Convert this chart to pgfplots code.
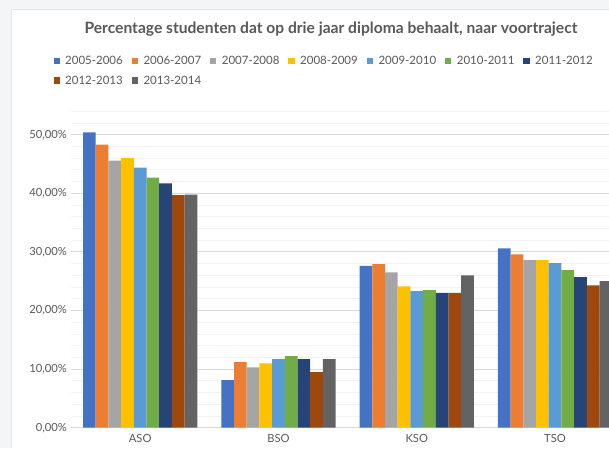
\documentclass[border=0pt]{standalone}
\usepackage{pgfplots}
\pgfplotsset{compat=1.18}
\usepackage{fontspec}
\setmainfont{Lato}
\definecolor{c1}{HTML}{4472C4}
\definecolor{c2}{HTML}{ED7D31}
\definecolor{c3}{HTML}{A5A5A5}
\definecolor{c4}{HTML}{FFC000}
\definecolor{c5}{HTML}{5B9BD5}
\definecolor{c6}{HTML}{70AD47}
\definecolor{c7}{HTML}{264478}
\definecolor{c8}{HTML}{9E480E}
\definecolor{c9}{HTML}{636363}
\definecolor{txt}{HTML}{595959}
\definecolor{bg}{HTML}{F3F5F6}
\definecolor{edge}{HTML}{E3E6E8}
\definecolor{majgrid}{HTML}{D9D9D9}
\definecolor{mingrid}{HTML}{F2F2F2}
\begin{document}
\begin{tikzpicture}[x=1pt,y=1pt]
\useasboundingbox (0,0) rectangle (609,448);
\fill[bg] (0,0) rectangle (609,448);
\fill[white] (11,0) rectangle (609,439);
\draw[edge,line width=0.8pt] (11,0) -- (11,439) -- (609,439);
\node[font=\bfseries\fontsize{15.6}{18}\selectfont, text=txt, anchor=base] at (331,414) {Percentage studenten dat op drie jaar diploma behaalt, naar voortraject};
\begin{axis}[
  at={(71pt,20.3pt)}, anchor=south west,
  scale only axis, width=553.2pt, height=316.4pt,
  xmin=-0.5, xmax=3.5, ymin=0, ymax=54,
  ybar=0pt, bar width=12.7pt,
  xtick={0,1,2,3}, xticklabels={ASO,BSO,KSO,TSO},
  ytick={0,10,20,30,40,50},
  yticklabels={{0,00\%},{10,00\%},{20,00\%},{30,00\%},{40,00\%},{50,00\%}},
  minor ytick={2,4,6,8,12,14,16,18,22,24,26,28,32,34,36,38,42,44,46,48,52,54},
  ymajorgrids, yminorgrids,
  major grid style={majgrid,line width=1pt},
  minor grid style={mingrid,line width=0.9pt},
  axis line style={draw=none},
  major tick length=0pt, minor tick length=0pt,
  tick label style={font=\fontsize{11.2}{13}\selectfont, text=txt},
  xticklabel style={anchor=north, inner sep=0pt, yshift=-6pt},
  yticklabel style={anchor=east, inner sep=0pt, xshift=-4pt},
  clip=false,
  legend columns=7,
  legend image code/.code={\fill[#1,draw=none] (0pt,1pt) rectangle (6.2pt,7.3pt);},
  legend style={at={(0,1)}, anchor=north west, xshift=-17.7pt, yshift=55.1pt,
    draw=none, fill=none, inner sep=0pt,
    font=\fontsize{11.5}{13}\selectfont, text=txt,
    nodes={inner sep=0pt, text height=8.5pt, text depth=2.5pt, anchor=base west},
    row sep=8.6pt,
    /tikz/every even column/.append style={column sep=9pt},
    /tikz/every odd column/.append style={column sep=5.5pt}},
]
\addplot[fill=c1,draw=none] coordinates {(0,50.4) (1,8.1) (2,27.6) (3,30.6)};
\addplot[fill=c2,draw=none] coordinates {(0,48.3) (1,11.2) (2,27.9) (3,29.6)};
\addplot[fill=c3,draw=none] coordinates {(0,45.6) (1,10.3) (2,26.5) (3,28.6)};
\addplot[fill=c4,draw=none] coordinates {(0,46.0) (1,11.0) (2,24.1) (3,28.6)};
\addplot[fill=c5,draw=none] coordinates {(0,44.4) (1,11.7) (2,23.3) (3,28.1)};
\addplot[fill=c6,draw=none] coordinates {(0,42.7) (1,12.2) (2,23.5) (3,26.9)};
\addplot[fill=c7,draw=none] coordinates {(0,41.7) (1,11.7) (2,23.0) (3,25.7)};
\addplot[fill=c8,draw=none] coordinates {(0,39.7) (1,9.5) (2,23.0) (3,24.3)};
\addplot[fill=c9,draw=none] coordinates {(0,39.8) (1,11.7) (2,26.0) (3,25.0)};
\legend{2005-2006,2006-2007,2007-2008,2008-2009,2009-2010,2010-2011,2011-2012,2012-2013,2013-2014}
\end{axis}
\end{tikzpicture}
\end{document}
